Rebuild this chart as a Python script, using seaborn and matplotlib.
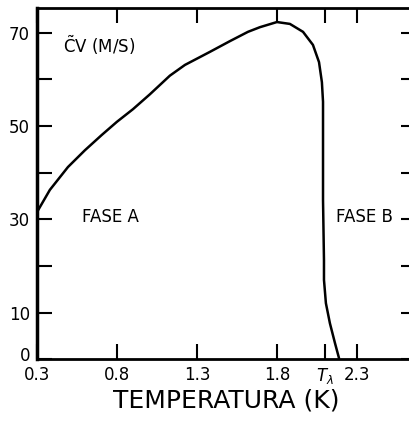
import matplotlib
matplotlib.use('Agg')
import matplotlib.pyplot as plt
import matplotlib.transforms as mtransforms
import seaborn as sns
import pandas as pd

# curve: temperature (K) vs velocity (m/s)
temperatura = [0.300, 0.381, 0.494, 0.600, 0.706, 0.800, 0.900, 1.006, 1.131,
               1.225, 1.381, 1.506, 1.619, 1.694, 1.800, 1.881, 1.963, 2.025,
               2.063, 2.081, 2.088, 2.088, 2.088, 2.094, 2.094, 2.106, 2.131,
               2.163, 2.188]
velocidade = [31.5, 36.3, 41.2, 44.8, 48.1, 50.9, 53.6, 56.8, 60.8,
              63.1, 65.9, 68.2, 70.2, 71.2, 72.3, 71.9, 70.2, 67.4,
              63.7, 59.4, 55.2, 48.1, 34.1, 21.2, 17.0, 12.0, 7.7,
              3.4, 0.2]

xticks = [0.3, 0.8, 1.3, 1.8, 2.1, 2.3]
xticklabels = ['0.3', '0.8', '1.3', '1.8', r'$T_\lambda$', '2.3']
yticks = [0, 10, 20, 30, 40, 50, 60, 70]
yticklabels = ['0', '10', '', '30', '', '50', '', '70']

sns.set_theme(style='ticks')
plt.rcParams['font.family'] = ['DejaVu Sans']
plt.rcParams['mathtext.fontset'] = 'dejavusans'
plt.rcParams['text.color'] = 'black'
plt.rcParams['axes.labelcolor'] = 'black'

fig = plt.figure(figsize=(4.1, 4.24), dpi=100)
ax = fig.add_axes([0.09, 0.153, 0.925, 0.828])

df = pd.DataFrame({'T': temperatura, 'V': velocidade})
sns.lineplot(data=df, x='T', y='V', sort=False, estimator=None, color='black',
             linewidth=1.8, ax=ax)

ax.set_xlim(0.3, 2.67)
ax.set_ylim(0, 75.3)
ax.set_xticks(xticks)
ax.set_xticklabels(xticklabels)
ax.set_yticks(yticks)
ax.set_yticklabels(yticklabels)

ax.tick_params(axis='both', direction='in', length=11, width=1.5,
               labelsize=12, colors='black', pad=5)
ax.tick_params(axis='x', top=True)
ax.tick_params(axis='y', right=True)

for s in ax.spines.values():
    s.set_linewidth(2)
    s.set_color('black')
ax.spines['left'].set_linewidth(2.5)
# the original is cut off before its right frame line
ax.spines['right'].set_visible(False)

# lift the "0" on the y axis a little, as in the original
lab0 = ax.get_yticklabels()[0]
lab0.set_transform(lab0.get_transform() +
                   mtransforms.ScaledTranslation(0, 4 / 72, fig.dpi_scale_trans))

ax.set_xlabel('TEMPERATURA (K)', fontsize=18, labelpad=2)
ax.set_ylabel('')

ax.text(0.46, 67.4, r'$\tilde{\mathrm{C}}$V (M/S)', fontsize=12, va='center', ha='left')
ax.text(0.58, 30.5, 'FASE A', fontsize=12, va='center', ha='left')
ax.text(2.525, 30.5, 'FASE B', fontsize=12, va='center', ha='right')

fig.savefig('out.png', dpi=100)
